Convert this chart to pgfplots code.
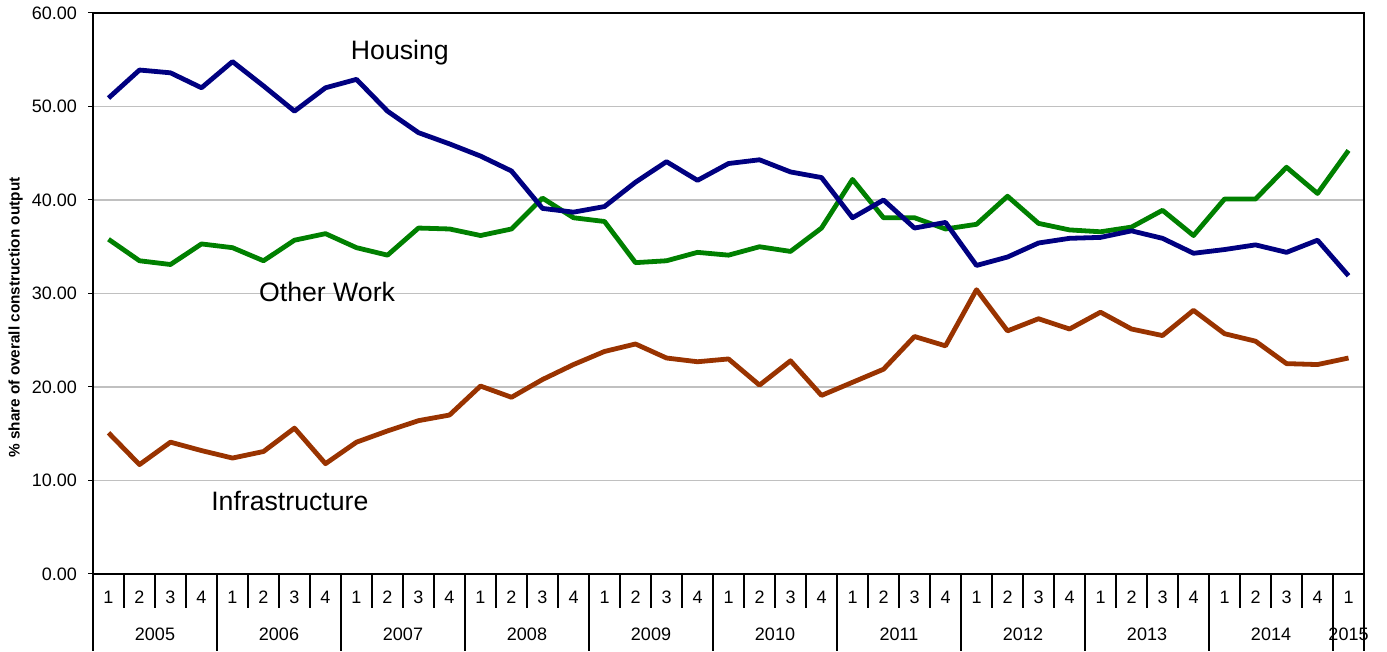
\documentclass[border=0pt]{standalone}
\usepackage{fontspec}
\setmainfont{Liberation Sans}
\usepackage{pgfplots}
\usepackage{pgfplotstable}
\pgfplotsset{compat=1.18}
\definecolor{housing}{HTML}{000080}
\definecolor{otherw}{HTML}{008000}
\definecolor{infra}{HTML}{993300}
\definecolor{gridc}{HTML}{C0C0C0}

\pgfplotstableread{
x h o i
0.5 50.9 35.8 15.1
1.5 53.9 33.5 11.7
2.5 53.6 33.1 14.1
3.5 52.0 35.3 13.2
4.5 54.8 34.9 12.4
5.5 52.2 33.5 13.1
6.5 49.5 35.7 15.6
7.5 52.0 36.4 11.8
8.5 52.9 34.9 14.1
9.5 49.5 34.1 15.3
10.5 47.2 37.0 16.4
11.5 46.0 36.9 17.0
12.5 44.7 36.2 20.1
13.5 43.1 36.9 18.9
14.5 39.1 40.2 20.8
15.5 38.7 38.1 22.4
16.5 39.3 37.7 23.8
17.5 41.9 33.3 24.6
18.5 44.1 33.5 23.1
19.5 42.1 34.4 22.7
20.5 43.9 34.1 23.0
21.5 44.3 35.0 20.2
22.5 43.0 34.5 22.8
23.5 42.4 37.0 19.1
24.5 38.1 42.2 20.5
25.5 40.0 38.1 21.9
26.5 37.0 38.1 25.4
27.5 37.6 36.9 24.4
28.5 33.0 37.4 30.4
29.5 33.9 40.4 26.0
30.5 35.4 37.5 27.3
31.5 35.9 36.8 26.2
32.5 36.0 36.6 28.0
33.5 36.7 37.1 26.2
34.5 35.9 38.9 25.5
35.5 34.3 36.2 28.2
36.5 34.7 40.1 25.7
37.5 35.2 40.1 24.9
38.5 34.4 43.5 22.5
39.5 35.7 40.7 22.4
40.5 31.9 45.3 23.1
}\datatable

\begin{document}
\begin{tikzpicture}
\begin{axis}[
  scale only axis,
  width=953.25pt, height=420.75pt,
  xmin=0, xmax=41, ymin=0, ymax=60,
  axis line style={black, line width=0.8pt},
  ytick={0,10,...,60},
  yticklabel style={/pgf/number format/fixed, /pgf/number format/fixed zerofill, /pgf/number format/precision=2, xshift=-5pt},
  /pgf/number format/assume math mode=true,
  tick label style={font=\fontsize{13.5}{15}\selectfont, black},
  tick align=outside,
  major tick length=3.5pt,
  minor tick length=0pt,
  tick style={black, line width=0.75pt},
  xtick=\empty,
  minor xtick={0,...,41},
  extra x ticks={0.5,1.5,...,40.5},
  extra x tick labels={1,2,3,4,1,2,3,4,1,2,3,4,1,2,3,4,1,2,3,4,1,2,3,4,1,2,3,4,1,2,3,4,1,2,3,4,1,2,3,4,1},
  extra x tick style={grid=none, tick style={draw=none}, xticklabel style={anchor=center, yshift=-14pt}},
  xminorgrids, ymajorgrids,
  grid style={gridc, line width=1.2pt},
  minor grid style={gridc, line width=1.2pt},
  ytick pos=left, xtick pos=bottom,
  ylabel={\% share of overall construction output},
  ylabel style={font=\bfseries\fontsize{11.5}{13}\selectfont, at={(ticklabel cs:0.457)}},
  clip=false,
]
\addplot[infra, line width=3.6pt, line join=round] table[x=x, y=i] {\datatable};
\addplot[otherw, line width=3.6pt, line join=round] table[x=x, y=o] {\datatable};
\addplot[housing, line width=3.6pt, line join=round] table[x=x, y=h] {\datatable};
\node[font=\fontsize{20}{24}\selectfont] at (axis cs:9.9,55.8) {Housing};
\node[font=\fontsize{20}{24}\selectfont] at (axis cs:7.55,30.2) {Other Work};
\node[font=\fontsize{20}{24}\selectfont] at (axis cs:6.35,7.8) {Infrastructure};
\pgfplotsextra{
  \foreach \q in {0,...,41} {\draw[black, line width=1pt] (axis cs:\q,0) -- ++(0,-25.5pt);}
  \foreach \q in {0,4,...,40,41} {\draw[black, line width=1pt] (axis cs:\q,0) -- ++(0,-57.75pt);}
  \foreach \yr/\xx in {2005/2,2006/6,2007/10,2008/14,2009/18,2010/22,2011/26,2012/30,2013/34,2014/38,2015/40.5}
    {\node[font=\fontsize{13.5}{15}\selectfont, anchor=center] at (axis cs:\xx,0) [yshift=-45.5pt] {\yr};}
}
\end{axis}
\path ([shift={(-69.75pt,-57.75pt)}]current axis.south west) rectangle ([shift={(17.25pt,9.75pt)}]current axis.north east);
\end{tikzpicture}
\end{document}
